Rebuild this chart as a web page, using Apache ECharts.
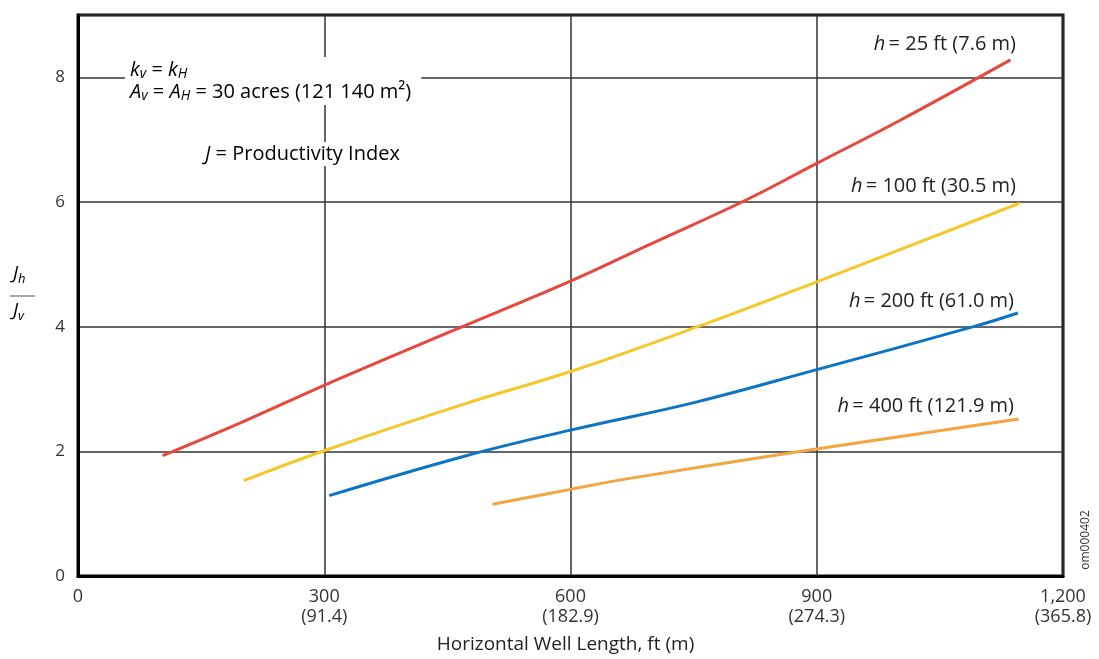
<!DOCTYPE html>
<html>
<head>
<meta charset="utf-8">
<title>Jh/Jv vs Horizontal Well Length</title>
<script src="https://cdn.jsdelivr.net/npm/echarts@6/dist/echarts.min.js"></script>
<style>
  html, body { margin: 0; padding: 0; background: #fff; }
  #chart { width: 1099px; height: 659px; }
</style>
</head>
<body>
<div id="chart"></div>
<script>
// Horizontal well length (ft) paired with productivity ratio Jh/Jv for each reservoir thickness
const h25 = [[103, 1.93], [200, 2.47], [300, 3.06], [450, 3.90], [600, 4.73], [700, 5.34], [812, 6.02], [900, 6.62], [1000, 7.30], [1136, 8.28]];
const h100 = [[202, 1.53], [300, 2.01], [473, 2.77], [600, 3.28], [755, 4.0], [900, 4.72], [1147, 5.98]];
const h200 = [[306, 1.29], [473, 1.93], [600, 2.34], [753, 2.79], [900, 3.31], [1091, 4.0], [1145, 4.22]];
const h400 = [[505, 1.15], [600, 1.39], [674, 1.57], [881, 2.0], [1146, 2.52]];

const seriesNames = ['h = 25 ft (7.6 m)', 'h = 100 ft (30.5 m)', 'h = 200 ft (61.0 m)', 'h = 400 ft (121.9 m)'];
const seriesColors = ['#e8473d', '#f5c829', '#0b74c4', '#f2a541'];

// Axis tick labels: feet with metres underneath
const xTickValues = [0, 300, 600, 900, 1200];
const xTickLabels = ['0', '300\n(91.4)', '600\n(182.9)', '900\n(274.3)', '1,200\n(365.8)'];
const yTickValues = [0, 2, 4, 6, 8];
const yTickLabels = ['0', '2', '4', '6', '8'];

const FONT = '"Open Sans", Lato, sans-serif';
const chart = echarts.init(document.getElementById('chart'));

function lineSeries(name, data, color) {
  return {
    name: name,
    type: 'line',
    data: data,
    smooth: 0.4,
    showSymbol: false,
    lineStyle: { color: color, width: 3 },
    z: 3
  };
}

const subRich = {
  i: { fontSize: 20, fontStyle: 'italic', fontFamily: FONT, color: '#222', lineHeight: 22 },
  t: { fontSize: 20, fontFamily: FONT, color: '#222', lineHeight: 22 },
  s: { fontSize: 14, fontStyle: 'italic', fontFamily: FONT, color: '#222', lineHeight: 12, verticalAlign: 'bottom' },
  ci: { fontSize: 20, fontStyle: 'italic', fontFamily: FONT, color: '#222', lineHeight: 22 },
  ct: { fontSize: 20, fontFamily: FONT, color: '#222', lineHeight: 22 },
  bi: { fontSize: 19, fontStyle: 'italic', fontFamily: FONT, color: '#333', lineHeight: 24 },
  bs: { fontSize: 13, fontStyle: 'italic', fontFamily: FONT, color: '#333', lineHeight: 13, verticalAlign: 'bottom' }
};

function curveLabel(text, right, cy) {
  const parts = text.split(' = ');
  return {
    type: 'text',
    right: 1099 - right,
    top: cy - 11,
    z: 10,
    style: {
      text: '{ci|' + parts[0] + '} {ct|= ' + parts[1] + '}',
      rich: subRich,
      fill: '#222'
    }
  };
}

chart.setOption({
  backgroundColor: '#fff',
  animation: false,
  grid: {
    left: 78, right: 36, top: 15, bottom: 78,
    show: true, borderColor: '#000', borderWidth: 3, backgroundColor: 'transparent'
  },
  xAxis: {
    type: 'value',
    min: 0, max: 1200, interval: 300,
    name: 'Horizontal Well Length, ft (m)',
    nameLocation: 'middle',
    nameGap: 59,
    nameTextStyle: { fontSize: 19, fontFamily: FONT, color: '#222', padding: [0, 10, 0, 0] },
    axisLine: { show: true, lineStyle: { color: '#000', width: 3 } },
    axisTick: { show: false },
    axisLabel: {
      margin: 11,
      fontSize: 18, fontFamily: FONT, color: '#333', lineHeight: 20,
      formatter: function (v) {
        const k = xTickValues.indexOf(v);
        return k >= 0 ? xTickLabels[k] : '';
      }
    },
    splitLine: { show: true, lineStyle: { color: '#333', width: 1.5 } }
  },
  yAxis: {
    type: 'value',
    min: 0, max: 9, interval: 2,
    axisLine: { show: true, lineStyle: { color: '#000', width: 3 } },
    axisTick: { show: false },
    axisLabel: {
      margin: 13, showMaxLabel: false,
      fontSize: 17, fontFamily: FONT, color: '#333', padding: [4, 0, 0, 0],
      formatter: function (v) {
        const k = yTickValues.indexOf(v);
        return k >= 0 ? yTickLabels[k] : '';
      }
    },
    splitLine: { show: true, lineStyle: { color: '#333', width: 1.5 } }
  },
  series: [
    lineSeries(seriesNames[0], h25, seriesColors[0]),
    lineSeries(seriesNames[1], h100, seriesColors[1]),
    lineSeries(seriesNames[2], h200, seriesColors[2]),
    lineSeries(seriesNames[3], h400, seriesColors[3])
  ],
  graphic: [
    // Assumptions block
    {
      type: 'text', left: 125, top: 57, z: 10,
      style: {
        text: '{i|k}{s|v}{t| = }{i|k}{s|H}\n{i|A}{s|v}{t| = }{i|A}{s|H}{t| = 30 acres (121 140 m²)}',
        rich: subRich,
        backgroundColor: '#fff',
        padding: [2, 10, 2, 5]
      }
    },
    {
      type: 'text', left: 200, top: 142, z: 10,
      style: {
        text: '{i|J}{t| = Productivity Index}',
        rich: subRich,
        backgroundColor: '#fff',
        padding: [1, 6, 1, 5]
      }
    },
    // Curve labels
    curveLabel(seriesNames[0], 1016, 45),
    curveLabel(seriesNames[1], 1016, 187),
    curveLabel(seriesNames[2], 1014, 302),
    curveLabel(seriesNames[3], 1014, 407),
    // Y-axis title: Jh / Jv
    {
      type: 'text', left: 13, top: 264, z: 10,
      style: { text: '{bi|J}{bs|h}', rich: subRich }
    },
    {
      type: 'line', z: 10,
      shape: { x1: 10, y1: 296, x2: 35, y2: 296 },
      style: { stroke: '#555', lineWidth: 1 }
    },
    {
      type: 'text', left: 13, top: 301, z: 10,
      style: { text: '{bi|J}{bs|v}', rich: subRich }
    },
    // Figure id
    {
      type: 'text', z: 10,
      x: 1086, y: 540, rotation: Math.PI / 2,
      style: {
        text: 'om000402', fontSize: 12, fontFamily: FONT, fill: '#333',
        align: 'center', verticalAlign: 'middle'
      }
    }
  ]
});
</script>
</body>
</html>
